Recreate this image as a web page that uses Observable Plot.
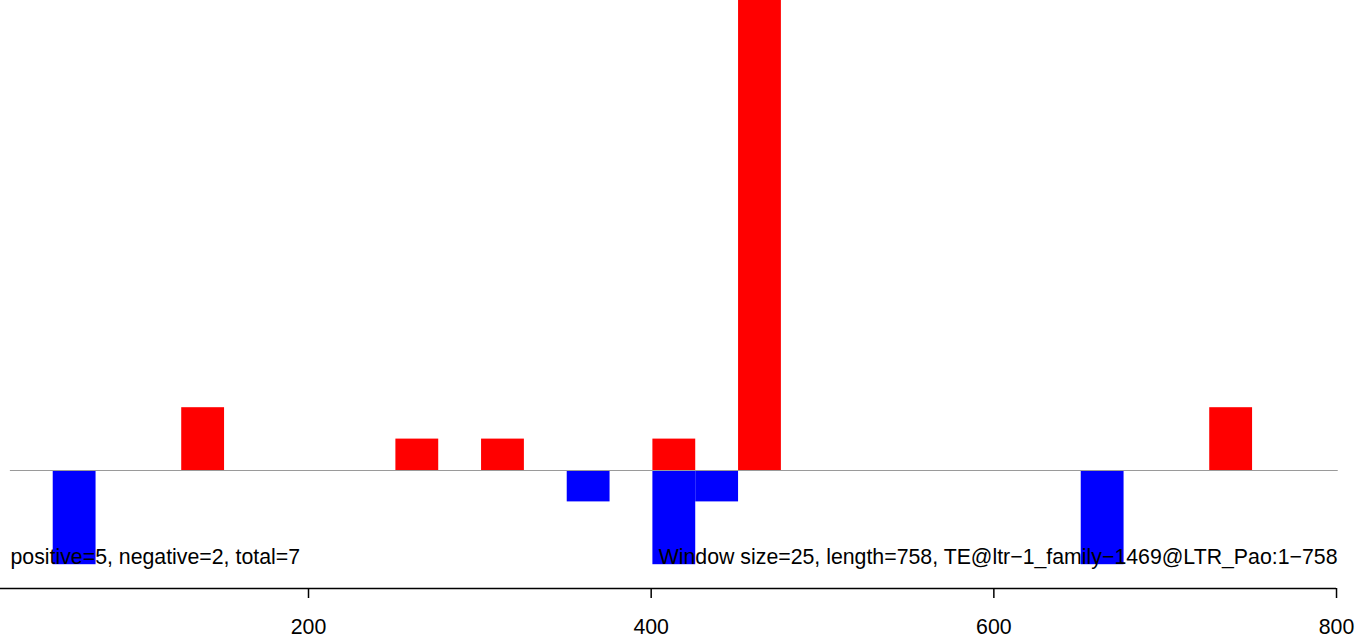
<!DOCTYPE html>
<html>
<head>
<meta charset="utf-8">
<script src="https://cdn.jsdelivr.net/npm/d3@7"></script>
<script src="https://cdn.jsdelivr.net/npm/@observablehq/plot@0.6"></script>
<style>
  html, body { margin: 0; padding: 0; background: #fff; }
  svg { display: block; }
</style>
</head>
<body>
<div id="chart"></div>
<script>
// ---- data ----
const windowSize = 25;
const posStarts = [126, 251, 301, 401, 451, 726];
const posValues = [2, 1, 1, 1, 15, 2];
const negStarts = [51, 351, 401, 426, 651];
const negValues = [-3, -1, -3, -1, -3];
const xTicks = [200, 400, 600, 800];
const axisExtent = [0, 800];
const baselineExtent = [26, 801];
const leftLabel = "positive=5, negative=2, total=7";
const rightLabel = "Window size=25, length=758, TE@ltr\u22121_family\u22121469@LTR_Pao:1\u2212758";

const xDomain = [20.23, 821];
const yDomain = [-3.758, 14.968];

const pos = posStarts.map((s, i) => ({x1: s, x2: s + windowSize, y: posValues[i]}));
const neg = negStarts.map((s, i) => ({x1: s, x2: s + windowSize, y: negValues[i]}));

const font = "'Liberation Sans', Arial, Helvetica, sans-serif";

const chart = Plot.plot({
  width: 1372,
  height: 639,
  marginLeft: 0,
  marginRight: 0,
  marginTop: 0,
  marginBottom: 51,
  style: {fontFamily: font, fontSize: "21.3px", color: "#000", background: "#fff"},
  x: {domain: xDomain},
  y: {domain: yDomain, axis: null},
  marks: [
    Plot.rectY(pos, {x1: "x1", x2: "x2", y1: 0, y2: "y", fill: "#ff0000", clip: true, inset: 0}),
    Plot.rectY(neg, {x1: "x1", x2: "x2", y1: 0, y2: "y", fill: "#0000ff", clip: true, inset: 0}),
    Plot.ruleY([0], {x1: baselineExtent[0], x2: baselineExtent[1], stroke: "#9a9a9a", strokeWidth: 1.2}),
    Plot.ruleY([yDomain[0]], {x1: axisExtent[0], x2: axisExtent[1], stroke: "#000", strokeWidth: 1.5}),
    Plot.axisX({ticks: xTicks, tickSize: 10, tickPadding: 20, tickFormat: d => String(d), stroke: "#000", strokeWidth: 1.5, fontSize: 21.3, fill: "#000"}),
    Plot.text([leftLabel], {frameAnchor: "bottom-left", dx: 10, dy: -31, textAnchor: "start", lineAnchor: "middle", fontSize: 21.3, fill: "#000"}),
    Plot.text([rightLabel], {frameAnchor: "bottom-right", dx: -35, dy: -31, textAnchor: "end", lineAnchor: "middle", fontSize: 21.3, fill: "#000"})
  ]
});
document.getElementById("chart").appendChild(chart);
</script>
</body>
</html>
